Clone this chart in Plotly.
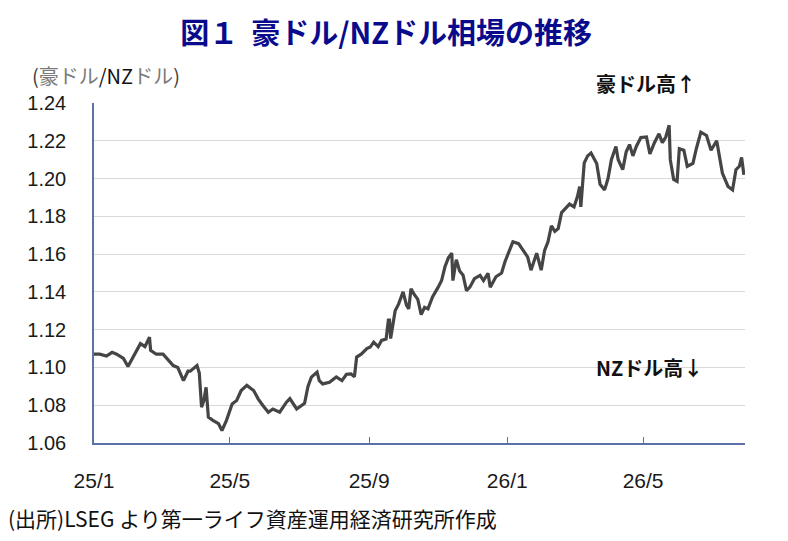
import plotly.graph_objects as go
import pandas as pd

# days since 2025-01-01 and AUD/NZD values
day_offsets = [
    0, 5, 11, 16, 20, 26, 30, 35, 41, 45, 49, 50, 55, 61, 66, 70, 74, 79, 83, 85,
    91, 93, 95, 97, 99, 101, 105, 110, 113, 117, 122, 126, 130, 135, 141, 145, 149, 154, 158, 164,
    170, 173, 179, 186, 189, 192, 197, 199, 202, 208, 214, 219, 223, 227, 230, 232, 236, 241, 244, 247,
    251, 254, 258, 260, 261, 262, 266, 269, 273, 276, 278, 280, 283, 286, 289, 292, 295, 299, 304, 307,
    310, 313, 316, 317, 320, 323, 326, 329, 332, 336, 341, 344, 348, 350, 355, 360, 363, 366, 370, 375,
    379, 383, 386, 391, 395, 398, 401, 404, 407, 410, 413, 416, 420, 424, 427, 429, 430, 433, 436, 439,
    444, 447, 451, 454, 457, 461, 463, 467, 470, 473, 476, 479, 483, 488, 491, 495, 499, 502, 505, 508,
    509, 512, 515, 517, 521, 524, 529, 532, 536, 541, 545, 550, 552, 555, 560, 564, 567, 570, 572, 574,
]
aud_nzd = [
    1.107, 1.107, 1.106, 1.108, 1.107, 1.1048, 1.1005, 1.106, 1.1126, 1.111, 1.116, 1.109, 1.107, 1.107, 1.1037, 1.101, 1.100, 1.093, 1.098, 1.098,
    1.101, 1.097, 1.079, 1.0825, 1.0895, 1.0737, 1.072, 1.0702, 1.0666, 1.072, 1.0807, 1.0825, 1.0878, 1.0905, 1.0878, 1.0834, 1.080, 1.0763, 1.078, 1.0763,
    1.0816, 1.0835, 1.078, 1.081, 1.090, 1.0949, 1.0975, 1.093, 1.0913, 1.0922, 1.095, 1.093, 1.0964, 1.0966, 1.095, 1.1055, 1.107, 1.110, 1.1108, 1.1134,
    1.111, 1.1143, 1.115, 1.125, 1.125, 1.1153, 1.130, 1.1335, 1.140, 1.133, 1.131, 1.1417, 1.1385, 1.136, 1.128, 1.1318, 1.131, 1.1373, 1.1425, 1.146,
    1.1533, 1.158, 1.1605, 1.146, 1.157, 1.151, 1.1488, 1.1406, 1.1425, 1.147, 1.1487, 1.146, 1.1498, 1.1425, 1.148, 1.150, 1.156, 1.1605, 1.1665, 1.1655,
    1.162, 1.1585, 1.1515, 1.1605, 1.1515, 1.162, 1.1665, 1.175, 1.172, 1.1735, 1.182, 1.184, 1.1865, 1.185, 1.1905, 1.1958, 1.185, 1.2083, 1.212, 1.2135,
    1.208, 1.197, 1.194, 1.200, 1.210, 1.217, 1.210, 1.2047, 1.214, 1.218, 1.212, 1.217, 1.2217, 1.222, 1.213, 1.219, 1.2237, 1.219, 1.222, 1.2282,
    1.210, 1.1995, 1.1985, 1.2158, 1.215, 1.2065, 1.208, 1.2158, 1.2246, 1.2228, 1.215, 1.220, 1.2135, 1.2029, 1.1958, 1.194, 1.2047, 1.2065, 1.2112, 1.202,
]
tick_dates = ["2025-01-01", "2025-05-01", "2025-09-01", "2026-01-01", "2026-05-01"]
tick_labels = ["25/1", "25/5", "25/9", "26/1", "26/5"]
y_ticks = [1.06, 1.08, 1.10, 1.12, 1.14, 1.16, 1.18, 1.20, 1.22, 1.24]

dates = pd.Timestamp("2025-01-01") + pd.to_timedelta(day_offsets, unit="D")

CJK = "Noto Sans CJK JP"
NUM = "Liberation Sans"
AXIS_BLUE = "#5A72A8"

fig = go.Figure()
fig.add_trace(go.Scatter(
    x=dates, y=aud_nzd, mode="lines",
    line=dict(color="#454545", width=3.2),
    hoverinfo="skip", showlegend=False,
))

fig.update_layout(
    width=788, height=541,
    margin=dict(l=94, r=43, t=103, b=98),
    paper_bgcolor="white", plot_bgcolor="white",
    showlegend=False,
    title=dict(
        text="図１  豪ドル/NZドル相場の推移",
        x=0.49, xanchor="center", y=0.938, yanchor="middle",
        font=dict(family=CJK, size=29, color="#0A0A8C", weight="bold"),
    ),
    xaxis=dict(
        type="date",
        range=["2025-01-01", "2026-07-30"],
        tickvals=tick_dates, ticktext=tick_labels,
        ticks="inside", ticklen=6, tickcolor=AXIS_BLUE, tickwidth=1,
        showline=True, linecolor=AXIS_BLUE, linewidth=1.5,
        showgrid=False, zeroline=False,
        tickfont=dict(family=NUM, size=21, color="#1a1a1a"),
        ticklabelstandoff=18,
    ),
    yaxis=dict(
        range=[1.06, 1.24],
        tickvals=y_ticks, tickformat=".2f",
        ticks="",
        showline=True, linecolor=AXIS_BLUE, linewidth=1.5,
        showgrid=True, gridcolor="#D9D9D9", gridwidth=1,
        zeroline=False,
        tickfont=dict(family=NUM, size=20, color="#1a1a1a"),
        ticklabelstandoff=22,
    ),
)

fig.add_annotation(
    xref="paper", yref="paper", x=-0.098, y=1.082, xanchor="left", yanchor="middle",
    showarrow=False,
    text=("<span style='color:#404040'>(</span><span style='color:#7a7a7a'>豪ドル</span>"
          "<span style='color:#111111'>/NZ</span><span style='color:#7a7a7a'>ドル</span>"
          "<span style='color:#404040'>)</span>"),
    font=dict(family=CJK, size=20),
)
fig.add_annotation(
    xref="paper", yref="paper", x=0.848, y=1.058,
    xanchor="center", yanchor="middle", showarrow=False,
    text="豪ドル高↑",
    font=dict(family=CJK, size=20, color="#111111", weight="bold"),
)
fig.add_annotation(
    x="2026-05-07", y=1.1, xref="x", yref="y",
    xanchor="center", yanchor="middle", showarrow=False,
    text="NZドル高↓",
    font=dict(family=CJK, size=20, color="#111111", weight="bold"),
)
fig.add_annotation(
    xref="paper", yref="paper", x=-0.135, y=-0.222, xanchor="left", yanchor="middle",
    showarrow=False,
    text="(出所)LSEG より第一ライフ資産運用経済研究所作成",
    font=dict(family=CJK, size=21, color="#111111"),
)

fig.write_html("out.html")
